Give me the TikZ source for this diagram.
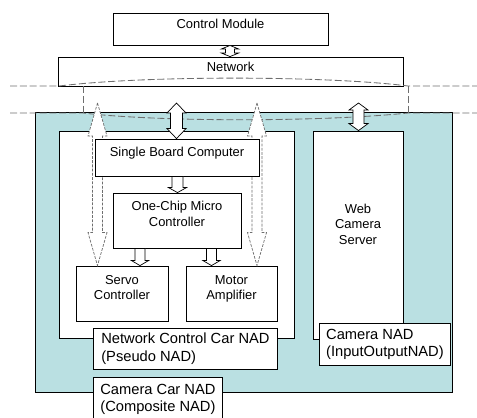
\documentclass[tikz,border=0pt]{standalone}
\usepackage{fontspec}
\setmainfont{Liberation Sans}
\usetikzlibrary{positioning,fit,calc}
\definecolor{carcyan}{RGB}{186,224,226}
\definecolor{netgray}{RGB}{110,110,110}
% hollow block arrow, heads at both ends: [style]{top}{bottom}{shaft}{head}{head length}
\newcommand{\dblarrow}[6][]{%
  \draw[blk,#1] (#2) -- ($(#2)+(#5,#6)$) -- ($(#2)+(#4,#6)$)
    -- ($(#3)+(#4,-#6)$) -- ($(#3)+(#5,-#6)$) -- (#3)
    -- ($(#3)+(-#5,-#6)$) -- ($(#3)+(-#4,-#6)$)
    -- ($(#2)+(-#4,#6)$) -- ($(#2)+(-#5,#6)$) -- cycle;}
% hollow block arrow, pointing down
\newcommand{\sglarrow}[6][]{%
  \draw[blk,#1] ($(#2)+(-#4,0)$) -- ($(#2)+(#4,0)$)
    -- ($(#3)+(#4,-#6)$) -- ($(#3)+(#5,-#6)$) -- (#3)
    -- ($(#3)+(-#5,-#6)$) -- ($(#3)+(-#4,-#6)$) -- cycle;}

\begin{document}
\begin{tikzpicture}[x=0.025cm, y=-0.025cm,
  font=\fontsize{9.2}{11}\selectfont,
  box/.style={draw, fill=white, inner sep=0pt, line width=0.6pt},
  txt/.style={inner sep=0pt, align=center},
  tag/.style={draw, fill=white, line width=0.6pt, anchor=north west, inner sep=0pt,
    align=left, font=\fontsize{10.45}{12.6}\selectfont},
  blk/.style={draw, fill=white, line width=0.5pt},
  dsh/.style={draw=netgray, dash pattern=on 2pt off 1pt},
  net/.style={draw=netgray, line width=0.6pt, dash pattern=on 5pt off 2pt}]
\path[use as bounding box, clip] (0,0) rectangle (477,417);

\node[box, fit={(113,13) (328,45)}] (cm) {Control Module};
\node[box, fit={(58,57) (403,86)}] (net) {Network};
\node[box, fill=carcyan, fit={(35,112) (452,392)}] (car) {};
\node[box, fit={(59,131) (294,338)}] (nca) {};
\node[box, fit={(313,131) (403,339)}] (wcs) {};
\node[box, fit={(76,266) (168,321)}] (sv) {};
\node[box, fit={(186,266) (277,321)}] (ma) {};

% network cut
\draw[net] (10,86) -- (59,86) .. controls (150,75) and (330,76) .. (408,86) -- (477,86);
\draw[net] (10,113) -- (83,113) .. controls (160,122) and (320,122) .. (408,113) -- (477,113);
\draw[net] (83,86) -- (83,113) (408,86) -- (408,113);

\coordinate (n1) at (176.5,103);
\coordinate (n2) at (358.5,103);
\coordinate (d1) at (97.5,103);
\coordinate (d2) at (257,103);
\coordinate (c1) at (230,0);
\coordinate (s1) at (177.5,0);
\coordinate (s2) at (140,0);
\coordinate (s3) at (211.5,0);

\dblarrow[dsh]{d1}{sv.north -| d1}{5}{9.5}{33}
\dblarrow[dsh]{d2}{ma.north -| d2}{5}{9.5}{33}

\node[box, fit={(95,139) (259,176)}] (sbc) {};
\node[box, fit={(113,193) (241,248)}] (mcu) {};

\node[txt, below=5.9pt of sbc.north] (sbc-t) {Single Board Computer};
\node[txt, below=5.9pt of mcu.north] (mcu-t) {One-Chip Micro\\Controller};
\node[txt, below=6.6pt of sv.north] (sv-t) {Servo\\Controller};
\node[txt, below=6.6pt of ma.north] (ma-t) {Motor\\Amplifier};
\node[txt, below=52pt of wcs.north] (wcs-t) {Web\\Camera\\Server};

\dblarrow{cm.south -| c1}{net.north -| c1}{4.5}{8.5}{3.5}
\dblarrow{n1}{sbc.north -| n1}{6}{9.5}{10}
\dblarrow{n2}{wcs.north -| n2}{5.5}{9.5}{7}
\sglarrow{sbc.south -| s1}{mcu.north -| s1}{5.5}{9}{5}
\sglarrow{mcu.south -| s2}{sv.north -| s2}{5}{8.5}{5}
\sglarrow{mcu.south -| s3}{ma.north -| s3}{5}{8.5}{5}

\node[tag, minimum width=4.6cm, minimum height=1.025cm] (nca-tag) at (93,328)
  {Network Control Car NAD\\(Pseudo NAD)};
\node[tag, minimum width=3.275cm, minimum height=1.05cm] (wcs-tag) at (319,323)
  {Camera NAD\\(InputOutputNAD)};
\node[tag, minimum width=3.225cm, minimum height=1.1cm] (car-tag) at (93,377)
  {Camera Car NAD\\(Composite NAD)};
\end{tikzpicture}
\end{document}
